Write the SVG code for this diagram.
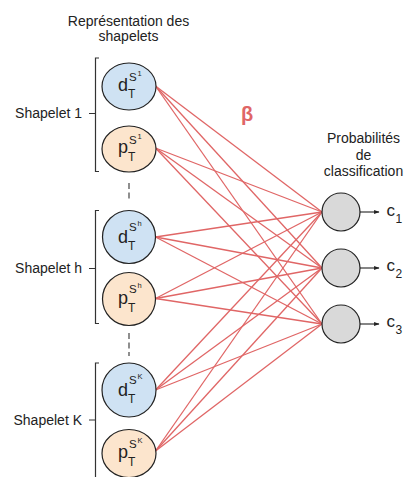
<svg xmlns="http://www.w3.org/2000/svg" width="405" height="477" viewBox="0 0 405 477">
<style>
text{font-family:"Liberation Sans",Arial,sans-serif;fill:#222}
.t{font-size:14px}
.m{font-size:18px}
.c{font-size:17px}
.sb{font-size:12px}
.sp{font-size:11.5px}
.ss{font-size:7.5px}
.d{fill:#cfe2f3;stroke:#222;stroke-width:1.2}
.p{fill:#fce5cd;stroke:#222;stroke-width:1.2}
.o{fill:#d9d9d9;stroke:#222;stroke-width:1.2}
.e{stroke:#e06666;stroke-width:1.3;fill:none}
.br{stroke:#333;stroke-width:1.2;fill:none}
.dash{stroke:#333;stroke-width:1.1;stroke-dasharray:6 3.5}
.ar{stroke:#222;stroke-width:1.1}
</style>
<defs>
<marker id="ah" viewBox="0 0 10 10" refX="9" refY="5" markerWidth="5" markerHeight="5" orient="auto">
<path d="M0,1.5 L10,5 L0,8.5 z" fill="#222"/>
</marker>
</defs>

<text class="t" x="128.5" y="26" text-anchor="middle">Représentation des</text>
<text class="t" x="128.5" y="41" text-anchor="middle">shapelets</text>
<text class="t" x="363.5" y="143" text-anchor="middle">Probabilités</text>
<text class="t" x="363.5" y="159.5" text-anchor="middle">de</text>
<text class="t" x="363.5" y="176" text-anchor="middle">classification</text>
<text x="241" y="121" style="font-size:20px;font-weight:bold;fill:#e06666">β</text>

<g id="connectors">
<line class="e" x1="155.5" y1="86" x2="322" y2="212"/>
<line class="e" x1="155.5" y1="86" x2="322" y2="268"/>
<line class="e" x1="155.5" y1="86" x2="322" y2="324"/>
<line class="e" x1="155.5" y1="148" x2="322" y2="212"/>
<line class="e" x1="155.5" y1="148" x2="322" y2="268"/>
<line class="e" x1="155.5" y1="148" x2="322" y2="324"/>
<line class="e" x1="155.5" y1="237" x2="322" y2="212"/>
<line class="e" x1="155.5" y1="237" x2="322" y2="268"/>
<line class="e" x1="155.5" y1="237" x2="322" y2="324"/>
<line class="e" x1="155.5" y1="298.5" x2="322" y2="212"/>
<line class="e" x1="155.5" y1="298.5" x2="322" y2="268"/>
<line class="e" x1="155.5" y1="298.5" x2="322" y2="324"/>
<line class="e" x1="155.5" y1="390" x2="322" y2="212"/>
<line class="e" x1="155.5" y1="390" x2="322" y2="268"/>
<line class="e" x1="155.5" y1="390" x2="322" y2="324"/>
<line class="e" x1="155.5" y1="451" x2="322" y2="212"/>
<line class="e" x1="155.5" y1="451" x2="322" y2="268"/>
<line class="e" x1="155.5" y1="451" x2="322" y2="324"/>
<line class="ar" x1="360" y1="212" x2="379" y2="212" marker-end="url(#ah)"/>
<line class="ar" x1="360" y1="268" x2="379" y2="268" marker-end="url(#ah)"/>
<line class="ar" x1="360" y1="324" x2="379" y2="324" marker-end="url(#ah)"/>
<line class="dash" x1="129" y1="183" x2="129" y2="202"/>
<line class="dash" x1="129" y1="333" x2="129" y2="356"/>
</g>

<g id="shapelet1">
<path class="br" d="M99,58 H95.5 V171.5 H99 M95.5,113.5 H89"/>
<text class="t" x="82" y="118" text-anchor="end">Shapelet 1</text>
</g>
<g id="shapeleth">
<path class="br" d="M99,210.5 H95.5 V323.5 H99 M95.5,268.5 H89"/>
<text class="t" x="82" y="273" text-anchor="end">Shapelet h</text>
</g>
<g id="shapeletK">
<path class="br" d="M99,363 H95.5 V477 M95.5,420 H89"/>
<text class="t" x="82" y="425" text-anchor="end">Shapelet K</text>
</g>

<g id="d1">
<ellipse class="d" cx="129" cy="86.5" rx="27" ry="23.5"/>
<text class="m" x="118" y="91">d</text><text class="sb" x="128" y="98">T</text><text class="sp" x="129" y="81">S</text><text class="ss" x="137.5" y="76">1</text>
</g>
<g id="p1">
<ellipse class="p" cx="129" cy="149" rx="27" ry="23"/>
<text class="m" x="118" y="153">p</text><text class="sb" x="128" y="160.5">T</text><text class="sp" x="129" y="143.5">S</text><text class="ss" x="137.5" y="138.5">1</text>
</g>
<g id="dh">
<circle class="d" cx="129" cy="237" r="26.5"/>
<text class="m" x="118" y="243">d</text><text class="sb" x="128" y="250">T</text><text class="sp" x="129" y="231">S</text><text class="ss" x="137.5" y="226">h</text>
</g>
<g id="ph">
<circle class="p" cx="129" cy="299" r="26.5"/>
<text class="m" x="118" y="304">p</text><text class="sb" x="128" y="311.5">T</text><text class="sp" x="129" y="293">S</text><text class="ss" x="137.5" y="288">h</text>
</g>
<g id="dK">
<circle class="d" cx="129" cy="390" r="27"/>
<text class="m" x="118" y="396">d</text><text class="sb" x="128" y="403">T</text><text class="sp" x="129" y="384">S</text><text class="ss" x="137.5" y="379">K</text>
</g>
<g id="pK">
<ellipse class="p" cx="129" cy="453.5" rx="27" ry="24"/>
<text class="m" x="118" y="458">p</text><text class="sb" x="128" y="465.5">T</text><text class="sp" x="129" y="447.5">S</text><text class="ss" x="137.5" y="442.5">K</text>
</g>

<g id="c1">
<circle class="o" cx="341" cy="212" r="19"/>
<text class="c" x="386.5" y="215.5">c</text><text class="sb" x="395.5" y="222.5">1</text>
</g>
<g id="c2">
<circle class="o" cx="341" cy="268" r="19"/>
<text class="c" x="386.5" y="271">c</text><text class="sb" x="395.5" y="278">2</text>
</g>
<g id="c3">
<circle class="o" cx="341" cy="324" r="19"/>
<text class="c" x="386.5" y="327">c</text><text class="sb" x="395.5" y="334">3</text>
</g>
</svg>
